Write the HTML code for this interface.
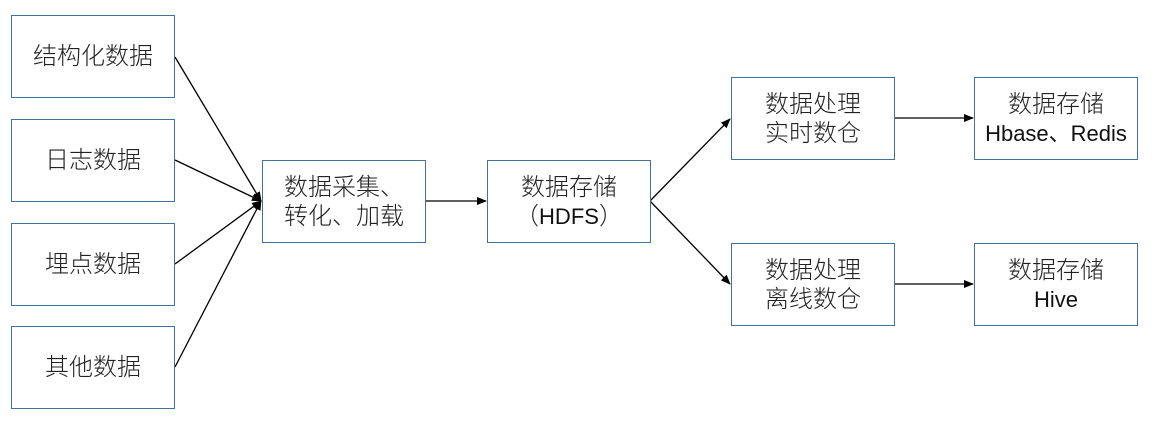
<!DOCTYPE html>
<html><head><meta charset="utf-8"><style>
body{margin:0;width:1155px;height:426px;background:#fff;position:relative;overflow:hidden;font-family:"Liberation Sans","Noto Sans CJK SC",sans-serif;}
.b{position:absolute;box-sizing:border-box;border:1.5px solid #41719c;background:#fff;display:flex;flex-direction:column;align-items:center;justify-content:center;font-size:24px;line-height:29px;color:#222;text-align:center;font-weight:300;}
.l{font-size:22px;color:#111;font-weight:400}
svg{position:absolute;left:0;top:0}
</style></head><body>
<svg width="1155" height="426">
<defs><marker id="a" markerWidth="10" markerHeight="8" refX="9" refY="4" orient="auto" markerUnits="userSpaceOnUse"><path d="M0,0 L10,4 L0,8 z" fill="#000"/></marker></defs>
<g stroke="#000" stroke-width="1.3" fill="none" marker-end="url(#a)">
<line x1="175" y1="57" x2="261" y2="201"/>
<line x1="175" y1="160" x2="261" y2="201"/>
<line x1="175" y1="264" x2="261" y2="201"/>
<line x1="175" y1="367" x2="261" y2="201"/>
<line x1="425" y1="201" x2="486" y2="201"/>
<line x1="650" y1="201" x2="730" y2="119"/>
<line x1="650" y1="201" x2="730" y2="284"/>
<line x1="894" y1="118" x2="973" y2="118"/>
<line x1="894" y1="284" x2="973" y2="284"/>
</g></svg>
<div class="b" style="left:11px;top:15px;width:164px;height:83px">结构化数据</div>
<div class="b" style="left:11px;top:119px;width:164px;height:83px">日志数据</div>
<div class="b" style="left:11px;top:223px;width:164px;height:83px">埋点数据</div>
<div class="b" style="left:11px;top:326px;width:164px;height:83px">其他数据</div>
<div class="b" style="left:262px;top:160px;width:164px;height:83px"><div>数据采集、</div><div>转化、加载</div></div>
<div class="b" style="left:487px;top:160px;width:164px;height:83px"><div>数据存储</div><div>（<span class="l">HDFS</span>）</div></div>
<div class="b" style="left:731px;top:77px;width:164px;height:83px"><div>数据处理</div><div>实时数仓</div></div>
<div class="b" style="left:731px;top:243px;width:164px;height:83px"><div>数据处理</div><div>离线数仓</div></div>
<div class="b" style="left:974px;top:77px;width:164px;height:83px"><div>数据存储</div><div class="l">Hbase、Redis</div></div>
<div class="b" style="left:974px;top:243px;width:164px;height:83px"><div>数据存储</div><div class="l">Hive</div></div>
</body></html>
